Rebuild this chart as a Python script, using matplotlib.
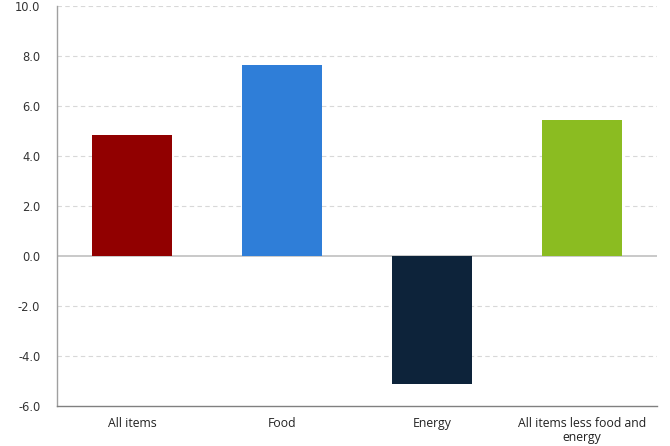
import matplotlib.pyplot as plt

# Bar chart, four CPI categories (Highcharts-style palette)
categories = ['All items', 'Food', 'Energy', 'All items less food and\nenergy']
values = [4.85, 7.65, -5.1, 5.45]
colors = ['#910000', '#2f7ed8', '#0d233a', '#8bbc21']
yticks = [-6, -4, -2, 0, 2, 4, 6, 8, 10]

fig = plt.figure(figsize=(6.7, 4.46), dpi=100)
ax = fig.add_axes([57 / 670, 40 / 446, 600 / 670, 400 / 446])

x = range(len(categories))
ax.bar(x, values, width=0.527, color=colors, zorder=3)

ax.set_xlim(-0.5, 3.5)
ax.set_ylim(-6, 10)
ax.set_yticks(yticks)
ax.set_yticklabels([f'{v:.1f}' for v in yticks], fontsize=8.3, color='#333333')
ax.set_xticks(list(x))
ax.set_xticklabels(categories, fontsize=8.8, color='#222222', family='Open Sans',
                   linespacing=1.05)
ax.tick_params(axis='y', length=0, pad=12)
ax.tick_params(axis='x', length=0, pad=8)

for v in yticks:
    if v in (0, -6):
        continue
    ax.axhline(v, color='#d8d8d8', lw=0.8, ls=(0, (4, 3)), zorder=1)
ax.axhline(0, color='#c0c0c0', lw=1.2, zorder=2)

for s in ['top', 'right']:
    ax.spines[s].set_visible(False)
ax.spines['left'].set_color('#a0a0a0')
ax.spines['bottom'].set_color('#808080')
ax.spines['left'].set_linewidth(1.0)
ax.spines['bottom'].set_linewidth(1.0)

fig.savefig('out.png', dpi=100)
